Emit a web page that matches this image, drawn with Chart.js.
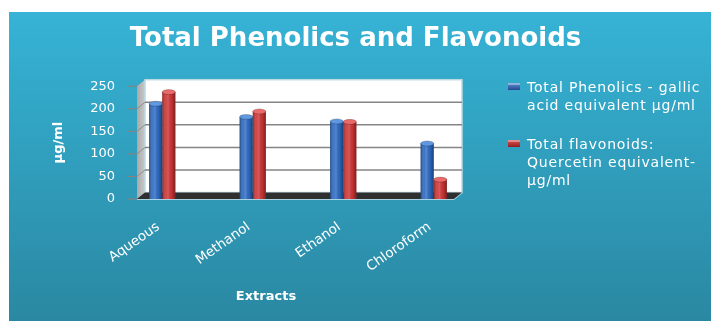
<!DOCTYPE html>
<html><head><meta charset="utf-8">
<script src="https://cdn.jsdelivr.net/npm/chart.js@4/dist/chart.umd.min.js"></script>
<style>
html,body{margin:0;padding:0;background:#fff;width:711px;height:321px;overflow:hidden}
#wrap{position:relative;width:711px;height:321px}
canvas{display:block}
#legend{position:absolute;left:508px;top:78px;font-family:'DejaVu Sans',sans-serif;font-size:14px;letter-spacing:0.8px;color:#fff;line-height:18px;white-space:nowrap}
.item{position:relative;padding-left:19px}
.item + .item{margin-top:21px}
.sw{position:absolute;left:0;top:5px;width:12px;height:7px;box-shadow:inset 0 2px 0 rgba(255,255,255,0.35)}
</style></head>
<body><div id="wrap"><canvas id="c" width="711" height="321"></canvas><div id="legend"></div></div>
<script>
const categories = ['Aqueous', 'Methanol', 'Ethanol', 'Chloroform'];
const phenolics = [211, 182, 172, 123];
const flavonoids = [237, 194, 171, 43];
const yTicks = [0, 50, 100, 150, 200, 250];
const phenolicsLabel = ['Total Phenolics - gallic', 'acid equivalent µg/ml'];
const flavonoidsLabel = ['Total flavonoids:', 'Quercetin equivalent-', 'µg/ml'];
const chartTitle = 'Total Phenolics and Flavonoids';
const xTitle = 'Extracts';
const yTitle = 'µg/ml';

const FONT = "'DejaVu Sans'";
const colors = {
  blue: {base: '#2f6cc4', cap: '#5f97e0', sw1: '#5c90d8', sw2: '#244a8e'},
  red: {base: '#cf3636', cap: '#ea6a6a', sw1: '#e25454', sw2: '#951d1d'}
};

const bgPlugin = {
  id: 'bg',
  beforeDraw(chart) {
    const ctx = chart.ctx;
    ctx.save();
    ctx.fillStyle = '#fff';
    ctx.fillRect(0, 0, chart.width, chart.height);
    const g = ctx.createLinearGradient(0, 12, 0, chart.height);
    g.addColorStop(0, '#36b3d6');
    g.addColorStop(1, '#2a88a2');
    ctx.fillStyle = g;
    ctx.fillRect(9, 12, chart.width - 9, chart.height - 12);
    ctx.restore();
  }
};

const wallPlugin = {
  id: 'walls',
  beforeDatasetsDraw(chart) {
    const ctx = chart.ctx, ca = chart.chartArea, ys = chart.scales.y;
    const y0 = ys.getPixelForValue(0), yT = ys.getPixelForValue(250);
    const fx0 = ca.left + 20, fx1 = ca.right - 25, dx = 8, dy = -6.5;
    ctx.save();
    const lg = ctx.createLinearGradient(fx0, 0, fx0 + dx, 0);
    lg.addColorStop(0, '#a9a9a9'); lg.addColorStop(1, '#c9c9c9');
    ctx.fillStyle = lg;
    ctx.beginPath();
    ctx.moveTo(fx0, y0); ctx.lineTo(fx0 + dx, y0 + dy); ctx.lineTo(fx0 + dx, yT + dy); ctx.lineTo(fx0, yT);
    ctx.closePath(); ctx.fill();
    ctx.fillStyle = '#ffffff';
    ctx.fillRect(fx0 + dx, yT + dy, fx1 - fx0, y0 - yT);
    ctx.strokeStyle = '#bcd9e3'; ctx.lineWidth = 1.5;
    ctx.strokeRect(fx0 + dx, yT + dy, fx1 - fx0, y0 - yT);
    yTicks.forEach(v => {
      const py = ys.getPixelForValue(v);
      if (v > 0 && v < 250) {
        ctx.strokeStyle = '#858585'; ctx.lineWidth = 1.5;
        ctx.beginPath(); ctx.moveTo(fx0 + dx, py + dy); ctx.lineTo(fx1 + dx, py + dy); ctx.stroke();
        ctx.strokeStyle = '#8d8d8d'; ctx.lineWidth = 1;
        ctx.beginPath(); ctx.moveTo(fx0, py); ctx.lineTo(fx0 + dx, py + dy); ctx.stroke();
      }
      ctx.strokeStyle = '#8f8078'; ctx.lineWidth = 1;
      ctx.beginPath(); ctx.moveTo(fx0 - 9, py); ctx.lineTo(fx0, py); ctx.stroke();
    });
    ctx.fillStyle = '#2f2f2f';
    ctx.beginPath();
    ctx.moveTo(fx0, y0); ctx.lineTo(fx0 + dx, y0 + dy); ctx.lineTo(fx1 + dx, y0 + dy); ctx.lineTo(fx1, y0);
    ctx.closePath(); ctx.fill();
    ctx.strokeStyle = 'rgba(200,225,235,0.8)'; ctx.lineWidth = 1;
    ctx.beginPath(); ctx.moveTo(fx0, y0 + 0.5); ctx.lineTo(fx1, y0 + 0.5); ctx.lineTo(fx1 + dx, y0 + dy + 0.5); ctx.stroke();
    ctx.restore();
  }
};

const cylPlugin = {
  id: 'cyl',
  afterDatasetsDraw(chart) {
    const ctx = chart.ctx;
    ctx.save();
    chart.data.datasets.forEach((ds, di) => {
      const meta = chart.getDatasetMeta(di);
      const c = di === 0 ? colors.blue : colors.red;
      meta.data.forEach(bar => {
        const w = bar.width, x0 = bar.x - w / 2, top = bar.y, base = bar.base;
        const g = ctx.createLinearGradient(x0, 0, x0 + w, 0);
        g.addColorStop(0, 'rgba(0,0,0,0.35)');
        g.addColorStop(0.3, 'rgba(255,255,255,0.08)');
        g.addColorStop(0.45, 'rgba(255,255,255,0.18)');
        g.addColorStop(0.7, 'rgba(0,0,0,0.05)');
        g.addColorStop(1, 'rgba(0,0,0,0.4)');
        ctx.fillStyle = g;
        ctx.fillRect(x0, top, w, base - top);
        ctx.beginPath();
        ctx.ellipse(bar.x, top, w / 2, 2.5, 0, 0, Math.PI * 2);
        ctx.fillStyle = c.cap; ctx.fill();
        ctx.strokeStyle = 'rgba(0,0,0,0.25)'; ctx.lineWidth = 0.8; ctx.stroke();
      });
    });
    ctx.restore();
  }
};

const xTitlePlugin = {
  id: 'xtitle',
  afterDraw(chart) {
    const ctx = chart.ctx;
    ctx.save();
    ctx.fillStyle = '#fff';
    ctx.font = 'bold 13px ' + FONT;
    ctx.textAlign = 'center'; ctx.textBaseline = 'middle';
    ctx.fillText(xTitle, 266, 297);
    ctx.restore();
  }
};

const chart = new Chart(document.getElementById('c'), {
  type: 'bar',
  data: {
    labels: categories,
    datasets: [
      {label: phenolicsLabel.join(' '), data: phenolics, backgroundColor: colors.blue.base, borderWidth: 0,
       categoryPercentage: 0.29, barPercentage: 1},
      {label: flavonoidsLabel.join(' '), data: flavonoids, backgroundColor: colors.red.base, borderWidth: 0,
       categoryPercentage: 0.29, barPercentage: 1}
    ]
  },
  options: {
    responsive: false,
    devicePixelRatio: 1,
    animation: false,
    layout: {padding: {left: 0, right: 0, top: 0, bottom: 0}},
    plugins: {
      legend: {display: false},
      tooltip: {enabled: false},
      title: {display: true, text: chartTitle, color: '#fff',
        font: {family: FONT, size: 26, weight: 'bold'}, padding: {top: 24, bottom: 31}}
    },
    scales: {
      x: {
        grid: {display: false, drawTicks: false}, border: {display: false},
        ticks: {color: '#fff', font: {family: FONT, size: 13.5}, minRotation: 35, maxRotation: 35, padding: 20, labelOffset: -4, autoSkip: false},
        afterFit: s => { s.height = 122; }
      },
      y: {
        min: 0, max: 250,
        afterBuildTicks: s => { s.ticks = yTicks.map(v => ({value: v})); },
        grid: {display: false, drawTicks: false}, border: {display: false},
        ticks: {color: '#fff', font: {family: FONT, size: 13}, padding: 2},
        title: {display: true, text: yTitle, color: '#fff', font: {family: FONT, size: 13, weight: 'bold'}, padding: {top: 51, bottom: 0}},
        afterFit: s => { s.width = 117; }
      },
      legendSpace: {
        type: 'linear', position: 'right', display: true,
        grid: {display: false, drawTicks: false}, border: {display: false},
        ticks: {display: false},
        afterFit: s => { s.width = 232; }
      }
    }
  },
  plugins: [bgPlugin, wallPlugin, cylPlugin, xTitlePlugin]
});

const legendLines = [phenolicsLabel, flavonoidsLabel];
const leg = document.getElementById('legend');
chart.data.datasets.forEach((ds, i) => {
  const c = i === 0 ? colors.blue : colors.red;
  const item = document.createElement('div');
  item.className = 'item';
  const sw = document.createElement('span');
  sw.className = 'sw';
  sw.style.background = 'linear-gradient(' + c.sw1 + ',' + c.sw2 + ')';
  item.appendChild(sw);
  legendLines[i].forEach((line, k) => {
    if (k) item.appendChild(document.createElement('br'));
    item.appendChild(document.createTextNode(line));
  });
  leg.appendChild(item);
});
</script>
</body></html>
